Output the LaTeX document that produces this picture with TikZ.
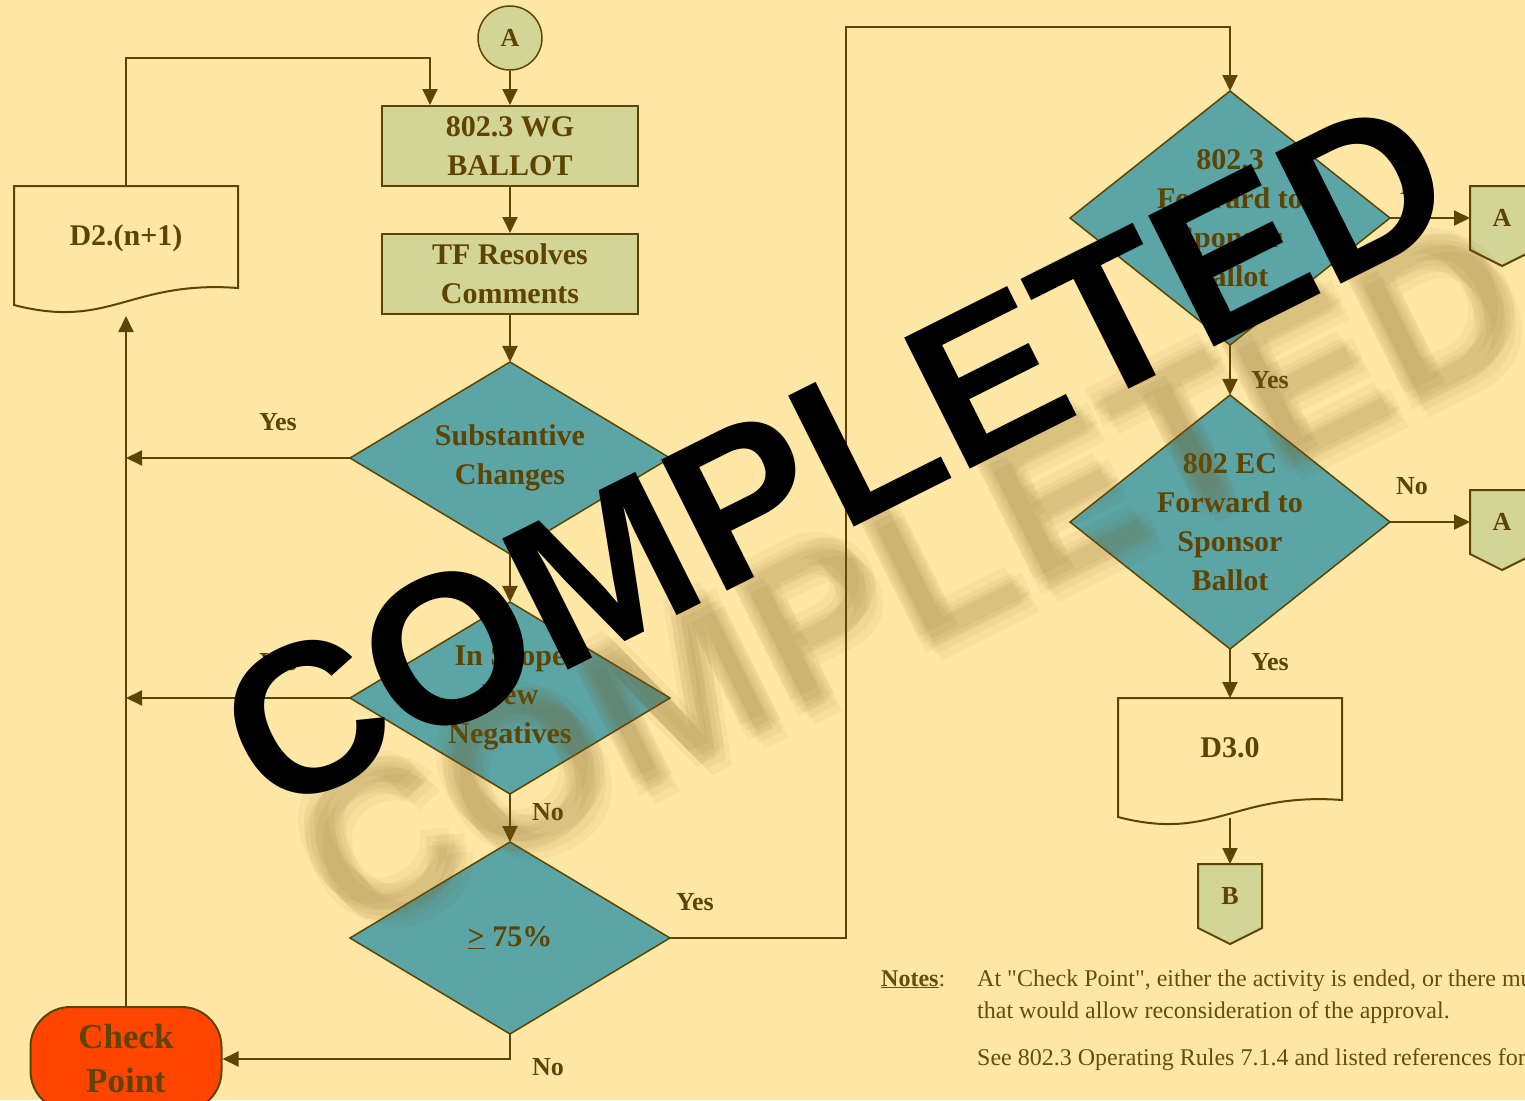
\documentclass[tikz,border=0pt]{standalone}
\usepackage{fontspec}
\setmainfont{Liberation Serif}
\newfontfamily\notefont{Liberation Serif}[Ligatures=TeXOff]
\newfontfamily\stampfont{Liberation Sans}
\usetikzlibrary{shapes.geometric,arrows.meta}
\definecolor{bgc}{HTML}{FFE8A6}
\definecolor{boxc}{HTML}{D3D596}
\definecolor{tealc}{HTML}{5BA5A6}
\definecolor{brn}{HTML}{5E4400}
\definecolor{notec}{HTML}{654C10}
\definecolor{redc}{HTML}{FF4500}
\definecolor{shc}{HTML}{7A5A1E}
\pgfdeclarelayer{back}
\pgfsetlayers{back,main}
\begin{document}
\begin{tikzpicture}[x=1pt,y=-1pt,
  line/.style={draw=brn,line width=2pt},
  arr/.style={line,-{Triangle[length=16pt,width=15pt]}},
  nodefont/.style={text=brn,font=\fontsize{30}{39}\selectfont\bfseries,align=center},
  box/.style={rectangle,draw=brn,line width=2pt,fill=boxc,minimum width=256pt,minimum height=80pt,inner sep=0pt,nodefont},
  dia/.style={diamond,draw=brn,line width=1.5pt,fill=tealc,minimum width=320pt,minimum height=192pt,inner sep=-45pt,outer sep=0pt,nodefont},
  diab/.style={dia,minimum height=254pt},
  circ/.style={circle,draw=brn,line width=1.5pt,fill=boxc,minimum size=64pt,inner sep=0pt,text=brn,font=\fontsize{26}{26}\selectfont\bfseries},
  term/.style={rectangle,rounded corners=40pt,draw=brn,line width=2pt,fill=redc,minimum width=191pt,minimum height=104pt,inner sep=0pt,text=brn,font=\fontsize{35}{44}\selectfont\bfseries,align=center},
  docbox/.style={rectangle,minimum width=224pt,inner sep=0pt,outer sep=0pt},
  doctext/.style={nodefont},
  offp/.style={rectangle,minimum width=64pt,minimum height=64pt,inner sep=0pt,outer sep=0pt,text=brn,font=\fontsize{26}{26}\selectfont\bfseries},
  lbl/.style={text=brn,font=\fontsize{26}{26}\selectfont\bfseries,inner sep=0pt},
  notes/.style={text=notec,font=\notefont\fontsize{24}{24}\selectfont,inner sep=0pt,anchor=base west},
  stamp/.style={rotate=26.6,inner sep=0pt,text=black,font=\stampfont\bfseries\fontsize{213}{213}\selectfont},
  stampsh/.style={stamp,text=shc,opacity=0.06}
]
\useasboundingbox (0,0) rectangle (1525,1100);
\begin{pgfonlayer}{back}
\fill[bgc] (0,0) rectangle (1525,1100);
\end{pgfonlayer}
\clip (0,0) rectangle (1525,1100);

% ---- nodes
\node[circ] (nA) at (510,38) {A};
\node[box] (wg) at (510,146) {802.3 WG\\BALLOT};
\node[box] (tf) at (510,274) {TF Resolves\\Comments};
\node[dia] (sub) at (510,458) {Substantive\\Changes};
\node[dia] (scope) at (510,698) {In Scope\\New\\Negatives};
\node[dia] (pct) at (510,938) {\underline{>} 75\%};
\node[term] (chk) at (126,1059) {Check\\Point};
\node[docbox,minimum height=130pt] (d2) at (126,251) {};
\node[doctext] (d2t) at (126,238) {D2.(n+1)};
\node[diab] (fwd) at (1230,218) {802.3\\Forward to\\Sponsor\\Ballot};
\node[diab] (ec) at (1230,522) {802 EC\\Forward to\\Sponsor\\Ballot};
\node[docbox,minimum height=120pt] (d3) at (1230,758) {};
\node[doctext] (d3t) at (1230,748) {D3.0};
\node[offp] (A1) at (1502,218) {A};
\node[offp] (A2) at (1502,522) {A};
\node[offp] (B) at (1230,896) {B};

% ---- document outlines
\draw[line] (d2.north west) -- (d2.north east) -- ++(0,102) .. controls +(-108,-8) and +(96,25) .. ++(-224,17) -- cycle;
\draw[line] (d3.north west) -- (d3.north east) -- ++(0,102) .. controls +(-108,-8) and +(96,25) .. ++(-224,17) -- cycle;

% ---- off-page connectors
\begin{pgfonlayer}{back}
\foreach \n in {A1,A2,B}
  \draw[line,fill=boxc] (\n.north west) -- (\n.north east) -- (\n.south east) -- ([shift={(0,16)}]\n.south) -- (\n.south west) -- cycle;
\end{pgfonlayer}

% ---- connectors
\draw[arr] (nA) -- (wg);
\draw[arr] (wg) -- (tf);
\draw[arr] (tf) -- (sub);
\draw[arr] (sub) -- (scope);
\draw[arr] (scope) -- (pct);
\draw[arr] (sub.west) -- (sub.west -| chk.north);
\draw[arr] (scope.west) -- (scope.west -| chk.north);
\draw[arr] (chk.north) -- (d2.south);
\coordinate (d2up) at (126,58);
\draw[arr] (d2.north) -- (d2up) -| ([xshift=-80pt]wg.north);
\draw[arr] (pct.south) |- (chk.east);
\coordinate (up1) at (846,27);
\draw[arr] (pct.east) -| (up1) -| (fwd.north);
\draw[arr] (fwd.east) -- (A1.west);
\draw[arr] (fwd) -- (ec);
\draw[arr] (ec.east) -- (A2.west);
\draw[arr] (ec) -- (d3);
\draw[arr] (d3.south) -- (B.north);

% ---- labels
\node[lbl] (ly1) at (278,422) {Yes};
\node[lbl] (ly2) at (278,662) {Yes};
\node[lbl] (ln1) at (548,812) {No};
\node[lbl] (ly3) at (695,902) {Yes};
\node[lbl] (ln2) at (548,1067) {No};
\node[lbl] (ln3) at (1416,186) {No};
\node[lbl] (ly4) at (1270,380) {Yes};
\node[lbl] (ln4) at (1412,486) {No};
\node[lbl] (ly5) at (1270,662) {Yes};

% ---- notes
\node[notes] (nh) at (881,986) {\textbf{\underline{Notes}}:};
\node[notes] (n1) at (977,986) {At "Check Point", either the activity is ended, or there must be a change of conditions};
\node[notes] (n2) at (977,1018) {that would allow reconsideration of the approval.};
\node[notes] (n3) at (977,1065) {See 802.3 Operating Rules 7.1.4 and listed references for details.};

% ---- stamp shadow (soft, several faint copies)
\foreach \dx/\dy [count=\i] in {64/110, 70/116, 76/122, 82/128, 88/134, 72/126, 80/116}
  \node[stampsh] (stsh\i) at (835+\dx,455+\dy) {COMPLETED};
% ---- stamp
\node[stamp] (st) at (835,455) {COMPLETED};
\end{tikzpicture}
\end{document}
